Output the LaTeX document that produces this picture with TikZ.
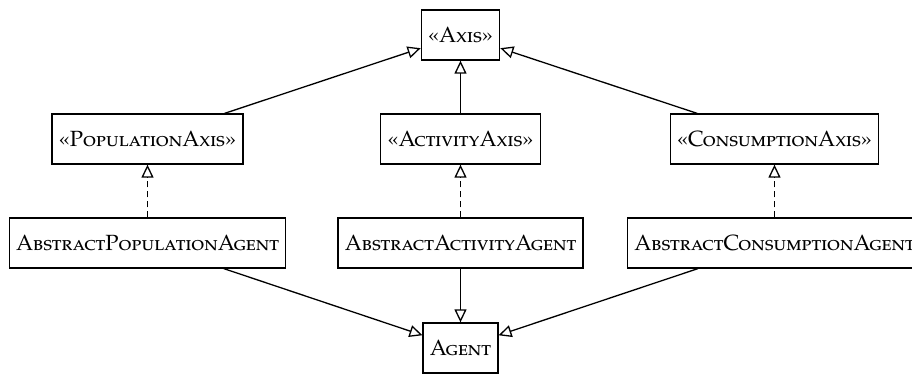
\documentclass[tikz,border=0pt]{standalone}
\usepackage{fontspec}
\setmainfont{TeX Gyre Pagella}
\usetikzlibrary{arrows.meta}
\tikzset{
  cls/.style={draw, line width=0.65pt, minimum height=25pt, inner xsep=3.4pt, inner ysep=2pt, font=\fontsize{11}{13}\selectfont},
  gen/.style={line width=0.65pt, -{Triangle[open, length=6.5pt, width=6pt]}},
  real/.style={gen, dash pattern=on 3pt off 2pt}
}
\begin{document}
\begin{tikzpicture}[x=0.5pt, y=-0.5pt]
\useasboundingbox (0,0) rectangle (912,374);
\node[cls] (axis) at (460.5,35) {«\textsc{Axis}»};
\node[cls] (pax) at (147.5,139) {«\textsc{PopulationAxis}»};
\node[cls] (aax) at (460.5,139) {«\textsc{ActivityAxis}»};
\node[cls] (cax) at (774.5,139) {«\textsc{ConsumptionAxis}»};
\node[cls] (pag) at (147.5,243) {\textsc{AbstractPopulationAgent}};
\node[cls] (aag) at (460.5,243) {\textsc{AbstractActivityAgent}};
\node[cls] (cag) at (774.5,243) {\textsc{AbstractConsumptionAgent}};
\node[cls] (agent) at (460.5,348) {\textsc{Agent}};
\draw[gen] (pax) -- (axis);
\draw[gen] (aax) -- (axis);
\draw[gen] (cax) -- (axis);
\draw[real] (pag) -- (pax);
\draw[real] (aag) -- (aax);
\draw[real] (cag) -- (cax);
\draw[gen] (pag) -- (agent);
\draw[gen] (aag) -- (agent);
\draw[gen] (cag) -- (agent);
\end{tikzpicture}
\end{document}
